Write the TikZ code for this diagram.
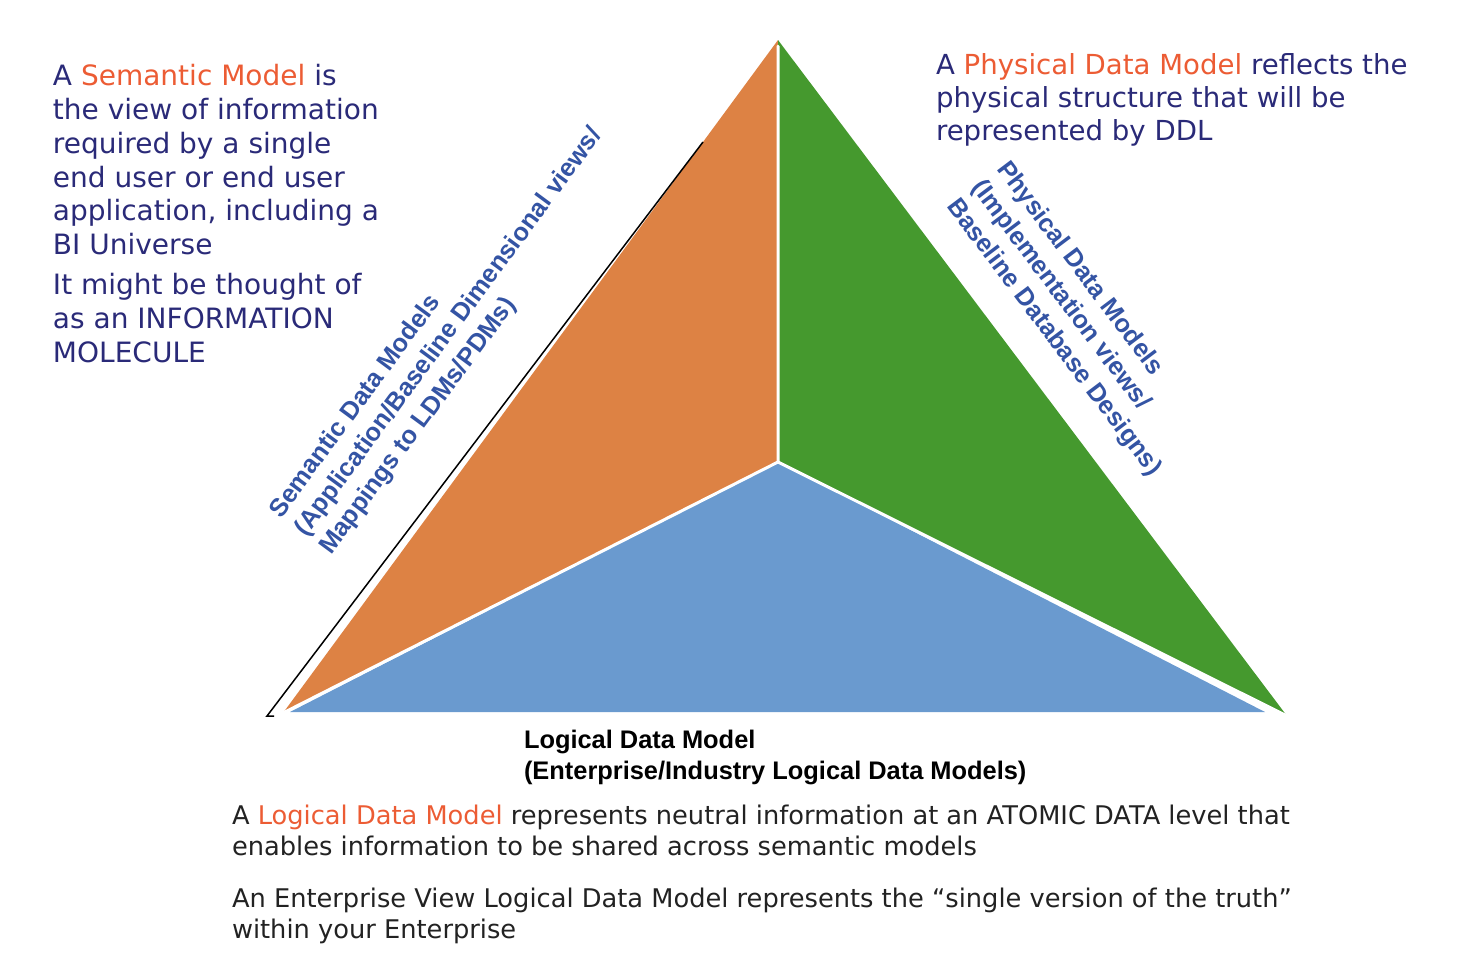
\documentclass[tikz,border=0pt]{standalone}
\usepackage{fontspec}
\setmainfont{DejaVu Sans}
\newfontfamily\labelfont{Liberation Sans}
\usetikzlibrary{calc}

\definecolor{navy}{RGB}{42,42,120}
\definecolor{hilite}{RGB}{236,92,52}
\definecolor{labelblue}{RGB}{52,84,164}
\definecolor{bodygray}{RGB}{34,34,34}
\definecolor{semorange}{RGB}{221,130,68}
\definecolor{phygreen}{RGB}{69,153,46}
\definecolor{logblue}{RGB}{106,154,207}

\begin{document}
\begin{tikzpicture}[x=0.5pt,y=-0.5pt,
  every node/.style={inner sep=0pt, outer sep=0pt},
  note/.style={align=left, text=navy, anchor=base west,
    font=\fontsize{14}{16.9}\selectfont},
  bodytext/.style={align=left, text=bodygray, anchor=base west,
    font=\fontsize{12.85}{15.4}\selectfont},
  edgelabel/.style={text=labelblue, anchor=base west,
    font=\labelfont\bfseries\fontsize{12.7}{15.5}\selectfont},
  baselabel/.style={align=left, text=black, anchor=base west,
    font=\labelfont\bfseries\fontsize{12.7}{15.5}\selectfont},
  divider/.style={white, line width=1.5pt, line cap=round}
]
\useasboundingbox (0,0) rectangle (1480,960);

% corners of the pyramid seen from above
\coordinate (apex) at (778,40);
\coordinate (mid)  at (778,462);
\coordinate (lft)  at (283,713);
\coordinate (rgt)  at (1287,716);
\coordinate (blL)  at (290,712);
\coordinate (blR)  at (1265,712);

% the three faces
\fill[logblue]   (mid) -- (blL) -- (blR) -- cycle;
\fill[semorange] (apex) -- (mid) -- (lft) -- cycle;
\fill[phygreen]  (apex) -- (rgt) -- (mid) -- cycle;
\draw[divider] ($(apex)+(0,6)$) -- (mid) -- (lft);
\draw[divider] (mid) -- (rgt);

% thin rule along the semantic face
\coordinate (ruleTop) at (703,142);
\coordinate (ruleEnd) at (267,716);
\draw[black, line width=0.75pt] (ruleTop) -- (ruleEnd) -- ++(7,0);

% edge labels
\node[edgelabel, rotate=53.6] (sem1) at (281,519) {Semantic Data Models};
\node[edgelabel, rotate=53.6] (sem2) at (306,537.4) {(Application/Baseline Dimensional views/};
\node[edgelabel, rotate=53.6] (sem3) at (331,555.8) {Mappings to LDMs/PDMs)};

\node[edgelabel, rotate=-53] (phy1) at (996,169) {Physical Data Models};
\node[edgelabel, rotate=-53] (phy2) at (971.2,187.7) {(Implementation views/};
\node[edgelabel, rotate=-53] (phy3) at (946.4,206.4) {Baseline Database Designs)};

% label under the pyramid (anchored at its last line)
\node[baselabel] (loglabel) at (524,779) {Logical Data Model\\(Enterprise/Industry Logical Data Models)};

% descriptive notes (anchored at their last lines)
\node[note] (semtext) at (53,362) {A \textcolor{hilite}{Semantic Model} is\\the view of information\\required by a single\\end user or end user\\application, including a\\BI Universe\\[3pt]It might be thought of\\as an INFORMATION\\MOLECULE};

\node[note, font=\fontsize{13.8}{16.5}\selectfont] (phytext) at (936,140) {A \textcolor{hilite}{Physical Data Model} reflects the\\physical structure that will be\\represented by DDL};

\node[bodytext] (logtext) at (232,855) {A \textcolor{hilite}{Logical Data Model} represents neutral information at an ATOMIC DATA level that\\enables information to be shared across semantic models};
\node[bodytext] (enttext) at (232,938) {An Enterprise View Logical Data Model represents the “single version of the truth”\\within your Enterprise};
\end{tikzpicture}
\end{document}
